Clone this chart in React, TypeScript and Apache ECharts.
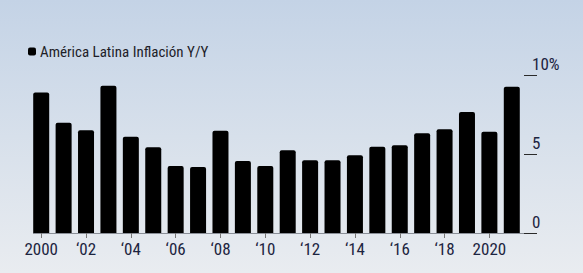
import React, { useEffect, useRef } from "react";
import * as echarts from "echarts";

const years = [
  "2000", "2001", "2002", "2003", "2004", "2005", "2006", "2007", "2008", "2009", "2010",
  "2011", "2012", "2013", "2014", "2015", "2016", "2017", "2018", "2019", "2020", "2021",
];
const inflation = [
  8.9, 6.98, 6.5, 9.32, 6.09, 5.42, 4.24, 4.18, 6.47, 4.56, 4.24,
  5.23, 4.6, 4.6, 4.92, 5.46, 5.55, 6.31, 6.56, 7.66, 6.41, 9.26,
];
const seriesName = "América Latina Inflación Y/Y";
const yTicks = [0, 5, 10];

const FONT = "'Roboto Condensed', 'Liberation Sans Narrow', 'DejaVu Sans Condensed', Roboto, sans-serif";

export default function App() {
  const ref = useRef<HTMLDivElement>(null);
  useEffect(() => {
    if (!ref.current) return;
    const chart = echarts.init(ref.current, null, { renderer: "svg" });
    chart.setOption({
      animation: false,
      backgroundColor: {
        type: "linear", x: 0, y: 0, x2: 0, y2: 1,
        colorStops: [
          { offset: 0, color: "#c4d3e6" },
          { offset: 0.5, color: "#d7e0eb" },
          { offset: 1, color: "#e9ecf0" },
        ],
      },
      legend: {
        show: true,
        left: 23,
        top: 39,
        icon: "roundRect",
        itemWidth: 8,
        itemHeight: 8,
        itemGap: 6,
        textStyle: { fontFamily: FONT, fontSize: 15, color: "#1e1e28", padding: [0, 0, 0, -1] },
        data: [seriesName],
      },
      grid: { left: 30, right: 60, top: 75, bottom: 40, containLabel: false },
      xAxis: {
        type: "category",
        data: years,
        boundaryGap: true,
        axisLine: { show: false },
        axisTick: {
          show: true,
          alignWithLabel: true,
          interval: 1,
          length: 5,
          lineStyle: { color: "#777", width: 1 },
        },
        axisLabel: {
          interval: 1,
          margin: 7,
          fontFamily: FONT,
          fontSize: 17,
          color: "#1c2440",
          formatter: (v: string) =>
            v === "2000" || v === "2020" ? v : "\u2018" + v.slice(2),
        },
      },
      yAxis: {
        type: "value",
        position: "right",
        offset: 14,
        min: 0,
        max: 10,
        interval: 5,
        splitLine: { show: false },
        axisLine: { show: false },
        axisTick: { show: true, inside: true, length: 13, lineStyle: { color: "#2a2a2a", width: 1 } },
        axisLabel: {
          margin: -5,
          verticalAlign: "bottom",
          padding: [0, 0, 3, 0],
          fontFamily: FONT,
          fontSize: 17,
          color: "#1c2440",
          formatter: (v: number) => (v === yTicks[yTicks.length - 1] ? v + "%" : String(v)),
        },
      },
      graphic: [
        {
          type: "line",
          shape: { x1: 33, y1: 233.5, x2: 537, y2: 233.5 },
          style: { stroke: "#8a8f98", lineWidth: 1 },
          z: 0,
        },
      ],
      series: [
        {
          name: seriesName,
          type: "bar",
          data: inflation,
          barWidth: 16,
          itemStyle: { color: "#000", borderRadius: [2, 2, 0, 0] },
          z: 2,
        },
      ],
    });
    return () => chart.dispose();
  }, []);
  return (
    <div
      ref={ref}
      style={{ position: "fixed", left: 0, top: 0, width: 583, height: 273 }}
    />
  );
}
